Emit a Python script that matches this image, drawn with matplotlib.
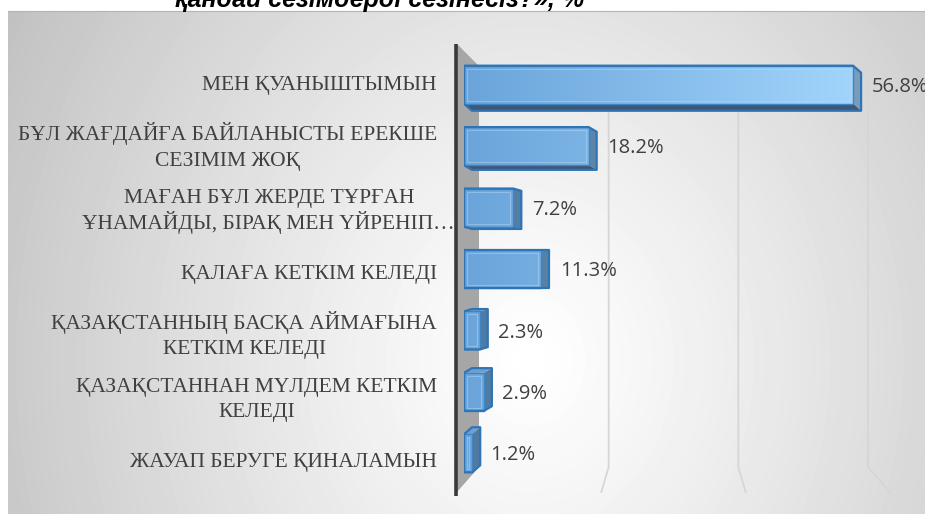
import numpy as np
import matplotlib
matplotlib.use("Agg")
import matplotlib.pyplot as plt
from matplotlib.patches import Polygon, Rectangle
from matplotlib.lines import Line2D
from matplotlib.colors import LinearSegmentedColormap, to_rgb

# ---------------- data ----------------
categories = [
    "МЕН ҚУАНЫШТЫМЫН",
    "БҰЛ ЖАҒДАЙҒА БАЙЛАНЫСТЫ ЕРЕКШЕ\nСЕЗІМІМ ЖОҚ",
    "МАҒАН БҰЛ ЖЕРДЕ ТҰРҒАН\nҰНАМАЙДЫ, БІРАҚ МЕН ҮЙРЕНІП…",
    "ҚАЛАҒА КЕТКІМ КЕЛЕДІ",
    "ҚАЗАҚСТАННЫҢ БАСҚА АЙМАҒЫНА\nКЕТКІМ КЕЛЕДІ",
    "ҚАЗАҚСТАННАН МҮЛДЕМ КЕТКІМ\nКЕЛЕДІ",
    "ЖАУАП БЕРУГЕ ҚИНАЛАМЫН",
]
values = [56.8, 18.2, 7.2, 11.3, 2.3, 2.9, 1.2]
value_labels = ["56.8%", "18.2%", "7.2%", "11.3%", "2.3%", "2.9%", "1.2%"]
grid_ticks = [20, 40, 60]
x_max = 60
title = "қандай сезімдерді сезінесіз?», %"

# ---------------- layout helpers ----------------
W, H = 925, 514
PT = 72.0 / 100.0              # points per pixel at dpi 100
fig = plt.figure(figsize=(W / 100, H / 100), dpi=100)
fig.patch.set_facecolor("white")


def px_axes(x0, y0, x1, y1):
    return fig.add_axes([x0 / W, 1 - y1 / H, (x1 - x0) / W, (y1 - y0) / H])


def to_fig(ax, pts):
    disp = ax.transData.transform(pts)
    return fig.transFigure.inverted().transform(disp)


n = len(categories)
ylims = (n - 0.5, -0.5)

# ---------------- background panel (radial gradient) ----------------
ax_bg = px_axes(8, 11, W, H)
ax_bg.set_zorder(-10)
gx, gy = np.meshgrid(np.arange(8, W), np.arange(11, H))
d = np.sqrt(((gx - 530) / 540.0) ** 2 + ((gy - 360) / 640.0) ** 2)
bright = np.clip(1.0 - 0.215 * d ** 1.15, 0, 1)
ax_bg.imshow(bright, cmap="gray", vmin=0, vmax=1, aspect="auto",
             extent=(0, 1, 0, 1), interpolation="bilinear")
ax_bg.set_xticks([]); ax_bg.set_yticks([])
for s in ["left", "right", "bottom"]:
    ax_bg.spines[s].set_visible(False)
ax_bg.spines["top"].set_color("#b4b4b4")
ax_bg.spines["top"].set_linewidth(0.8)

# ---------------- 3D planes ----------------
ax_back = px_axes(479, 66, 868, 467)
ax_front = px_axes(457, 44, 890, 492)
for a in (ax_back, ax_front):
    a.set_xlim(0, x_max)
    a.set_ylim(*ylims)
    a.axis("off")
    a.set_zorder(-5)

# side wall
wall = np.vstack([
    to_fig(ax_front, [(0, ylims[1])]),
    to_fig(ax_back, [(0, ylims[1]), (0, ylims[0])]),
    to_fig(ax_front, [(0, ylims[0])]),
])
fig.add_artist(Polygon(wall, closed=True, facecolor="#a6a6a6", edgecolor="none",
                       transform=fig.transFigure, zorder=-4))

# gridlines on back wall + floor lines
for v in grid_ticks:
    p_top, p_bot = to_fig(ax_back, [(v, ylims[1]), (v, ylims[0])])
    p_floor = to_fig(ax_front, [(v, ylims[0])])[0]
    fig.add_artist(Line2D([p_top[0], p_bot[0], p_floor[0]],
                          [p_top[1], p_bot[1], p_floor[1]],
                          color="#d6d6d6", lw=1.3, transform=fig.transFigure, zorder=-4))

# dark axis line at the front-left edge
pl = to_fig(ax_front, [(0, ylims[1]), (0, ylims[0])])
fig.add_artist(Line2D([pl[0][0] - 1.5 / W] * 2, [pl[0][1], pl[1][1] - 4 / H],
                      color="#3a3a3a", lw=2.6, transform=fig.transFigure,
                      zorder=-3, solid_capstyle="butt"))

# ---------------- bars ----------------
ax = px_axes(464, 54, 464 + 6.85 * x_max, 484)
ax.set_zorder(1)
ax.patch.set_visible(False)
ax.axis("off")

cmap = LinearSegmentedColormap.from_list("barfill", ["#6aa4da", "#a4d7fd"])
grad = np.linspace(0, 1, 256)[None, :]
hh = 0.31                      # half bar height (category units)
ddx = 8.0 / 6.85               # depth offset in x (data units)
edge = "#2e75b6"


def darker(c, f):
    r, g, b = to_rgb(c)
    return (r * f, g * f, b * f)


for i, v in enumerate(values):
    top, bot = i - hh, i + hh
    ddy = -(i - (n - 1) / 2) * 0.038
    end_col = cmap(min(v / x_max, 1.0))
    side = [(v, top), (v + ddx, top + ddy), (v + ddx, bot + ddy), (v, bot)]
    ax.add_patch(Polygon(side, closed=True, facecolor=darker(end_col, 0.74),
                         edgecolor="none", zorder=2))
    if ddy > 0:
        face = [(0, bot), (v, bot), (v + ddx, bot + ddy), (ddx, bot + ddy)]
        ax.add_patch(Polygon(face, closed=True, facecolor="#3f5774",
                             edgecolor="none", zorder=2))
        outline = [(0, top), (v, top), (v + ddx, top + ddy), (v + ddx, bot + ddy),
                   (ddx, bot + ddy), (0, bot)]
    else:
        face = [(0, top), (v, top), (v + ddx, top + ddy), (ddx, top + ddy)]
        ax.add_patch(Polygon(face, closed=True, facecolor="#6f9fd0",
                             edgecolor="none", zorder=2))
        outline = [(0, bot), (0, top), (ddx, top + ddy), (v + ddx, top + ddy),
                   (v + ddx, bot + ddy), (v, bot)]
    rect = Rectangle((0, top), v, 2 * hh, transform=ax.transData)
    im = ax.imshow(grad, cmap=cmap, extent=(0, x_max, ylims[0], ylims[1]),
                   aspect="auto", zorder=3, interpolation="bilinear")
    im.set_clip_path(rect)
    ins_x = 3.0 / 6.85
    ins_y = 3.0 / 61.4
    if v > 2 * ins_x:
        ax.add_patch(Rectangle((ins_x, top + ins_y), v - 2 * ins_x, 2 * hh - 2 * ins_y,
                               facecolor="none", edgecolor="#b7dcf8", lw=0.8,
                               alpha=0.45, zorder=4))
    ax.add_patch(Rectangle((0, top), v, 2 * hh, facecolor="none",
                           edgecolor="#3f86c6", lw=1.0, zorder=5))
    ax.add_patch(Polygon(outline, closed=True, facecolor="none", edgecolor=edge,
                         lw=1.6, zorder=6, joinstyle="round"))
    ax.annotate(value_labels[i], xy=(v + ddx, i), xycoords="data",
                xytext=(7.5, -1.5), textcoords="offset points",
                ha="left", va="center", fontsize=14.5, color="#404040",
                family=["Open Sans", "DejaVu Sans"], annotation_clip=False, zorder=7)

ax.set_xlim(0, x_max)
ax.set_ylim(*ylims)

# ---------------- category labels (right-aligned blocks, centred lines) ----------------
ax_lab = px_axes(457, 51.6, 890, 491.4)
ax_lab.set_xlim(0, x_max)
ax_lab.set_ylim(*ylims)
ax_lab.axis("off")
renderer = fig.canvas.get_renderer()
label_fs = 15.5
line_gap_px = 25.5
cap_half_px = 0.662 * label_fs / PT / 2
label_shift_px = {2: 18}       # overflowing (truncated) label sticks out to the right
for i, lab in enumerate(categories):
    lines = lab.split("\n")
    texts = [ax_lab.annotate(line, xy=(0, i), xycoords="data", xytext=(0, 0),
                             textcoords="offset points", ha="center", va="baseline",
                             fontsize=label_fs, color="#404040",
                             family=["Liberation Serif", "DejaVu Serif"],
                             annotation_clip=False)
             for line in lines]
    block_w = max(t.get_window_extent(renderer).width for t in texts)
    right_px = -20 + label_shift_px.get(i, 0)
    cx_px = right_px - block_w / 2
    nl = len(lines)
    for k, t in enumerate(texts):
        base_px = (k - (nl - 1) / 2) * line_gap_px + cap_half_px
        t.set_position((cx_px * PT, -base_px * PT))

# ---------------- (cut-off) title ----------------
fig.text(380 / W, 1 - 7.5 / H, title, ha="center", va="baseline",
         fontsize=18, fontweight="bold", fontstyle="italic", color="black",
         family=["Liberation Sans", "DejaVu Sans"])

fig.savefig("out.png", dpi=100)
